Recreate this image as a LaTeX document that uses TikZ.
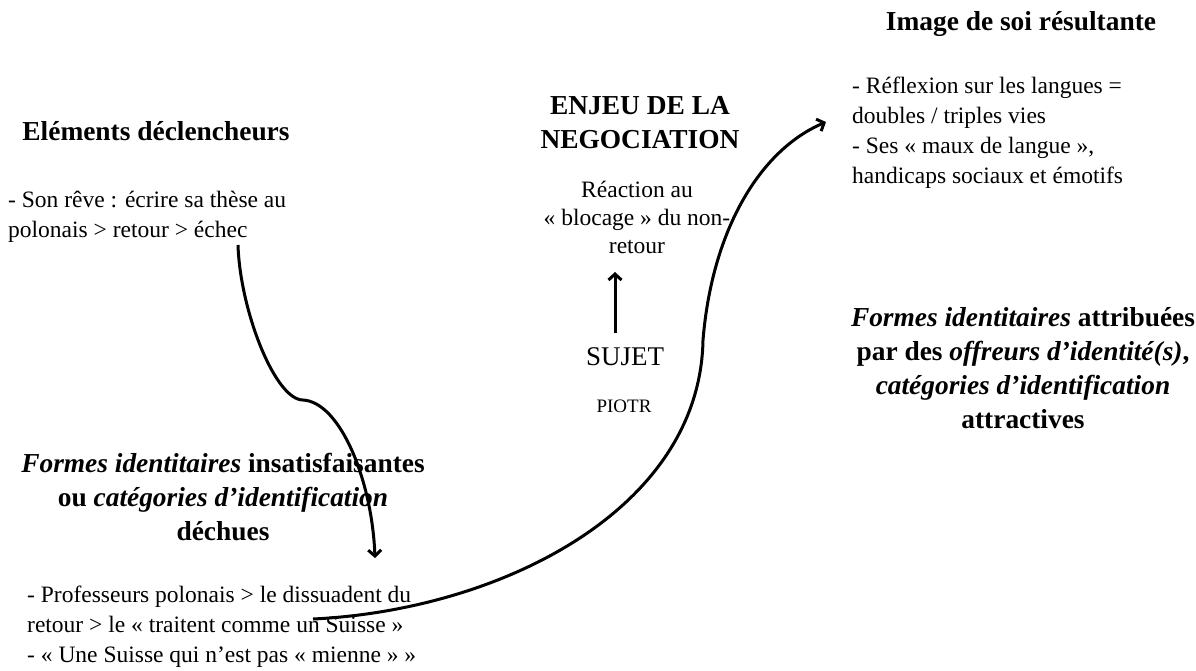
\documentclass[tikz,border=0pt]{standalone}
\usepackage{fontspec}
\setmainfont{Liberation Serif}
\usetikzlibrary{arrows.meta}

\tikzset{
  titre/.style={font=\fontsize{27.4}{34}\selectfont\bfseries, align=center, inner sep=0pt},
  texte/.style={font=\fontsize{23.5}{30}\selectfont, align=left, inner sep=0pt},
  fleche/.style={-{Straight Barb[length=6pt,width=13pt]}, line width=3pt},
}

\begin{document}
\begin{tikzpicture}[x=1pt,y=-1pt]
        \useasboundingbox (0,0) rectangle (1196,670);

        \node[titre, anchor=base] (ele) at (156,140) {Eléments déclencheurs};
        \node[texte, anchor=north west] (son) at (8,191) {- Son rêve : écrire sa thèse au\\polonais > retour > échec};

        \node[titre, anchor=north] (enjeu) at (640,96.5) {ENJEU DE LA\\NEGOCIATION};
        \node[texte, align=center, font=\fontsize{23.5}{28}\selectfont, anchor=north] (reac) at (637,181) {Réaction au\\« blocage » du non-\\retour};
        \node[font=\fontsize{27}{32}\selectfont, inner sep=0pt, anchor=base] (sujet) at (625,365) {SUJET};
        \node[font=\fontsize{19}{22}\selectfont, inner sep=0pt, anchor=base] (piotr) at (624,412) {PIOTR};

        \node[titre, anchor=base] (image) at (1021,30) {Image de soi résultante};
        \node[texte, anchor=north west] (langues) at (852,77) {- Réflexion sur les langues =\\doubles / triples vies\\- Ses « maux de langue »,\\handicaps sociaux et émotifs};

        \node[titre, anchor=north] (attrib) at (1023,307.5) {\textit{Formes identitaires} attribuées\\par des \textit{offreurs d’identité(s)},\\\textit{catégories d’identification}\\attractives};

        \node[titre, anchor=north] (dechues) at (223,453) {\textit{Formes identitaires} insatisfaisantes\\ou \textit{catégories d’identification}\\déchues};
        \node[texte, anchor=north west] (profs) at (27,586) {- Professeurs polonais > le dissuadent du\\retour > le « traitent comme un Suisse »\\- « Une Suisse qui n’est pas « mienne » »};

        % fleches
        \coordinate (d1) at (238,245);
        \coordinate (m1) at (303,400);
        \coordinate (f1) at (375,558);
        \coordinate (d2) at (313,619);
        \coordinate (m2) at (703,340);
        \coordinate (f2) at (826,122);

        \draw[fleche] ([xshift=-10pt,yshift=14pt]sujet.north) -- ([xshift=-22pt,yshift=-18pt]reac.south);
        \draw[fleche] (d1) .. controls (240,310) and (275,400) .. (m1) .. controls (340,402) and (372,480) .. (f1);
        \draw[fleche] (d2) .. controls (500,610) and (700,510) .. (m2) .. controls (712,230) and (760,150) .. (f2);
    \end{tikzpicture}
\end{document}
